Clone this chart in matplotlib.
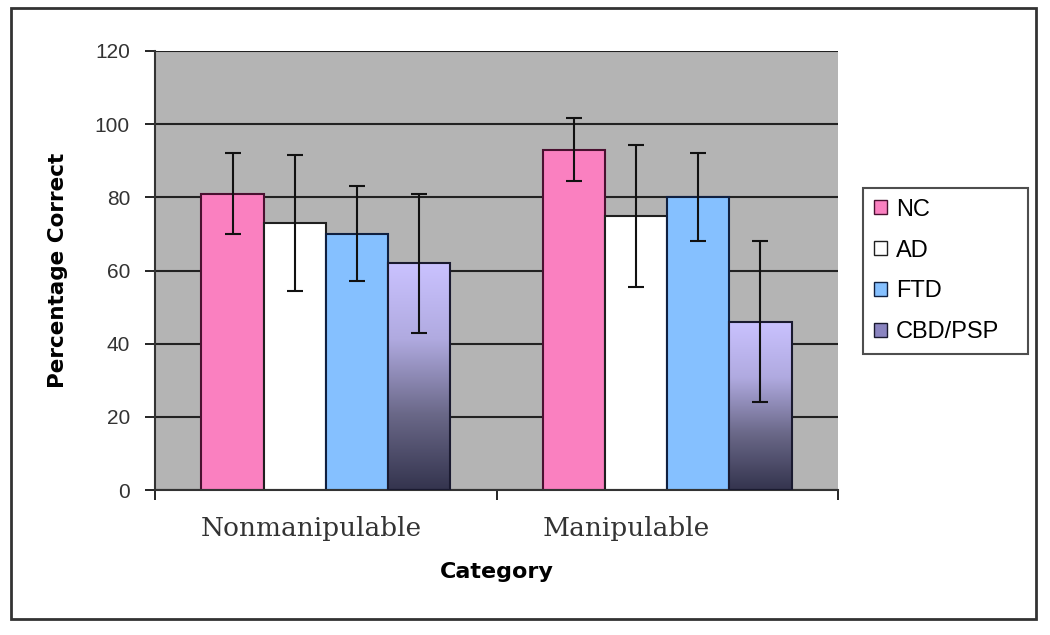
import matplotlib.pyplot as plt
import matplotlib.transforms as mtransforms
import numpy as np
from matplotlib.colors import LinearSegmentedColormap
from matplotlib.patches import Rectangle, Patch

categories = ["Nonmanipulable", "Manipulable"]
groups = ["NC", "AD", "FTD", "CBD/PSP"]
means = {
    "NC": [81, 93],
    "AD": [73, 75],
    "FTD": [70, 80],
    "CBD/PSP": [62, 46],
}
errors = {
    "NC": [11, 8.6],
    "AD": [18.6, 19.4],
    "FTD": [13, 12],
    "CBD/PSP": [19, 22],
}

colors = {"NC": "#fa80c0", "AD": "#ffffff", "FTD": "#85c0ff", "CBD/PSP": None}
edges = {"NC": "#4a1030", "AD": "#202020", "FTD": "#102040", "CBD/PSP": "#1a1a30"}

fig = plt.figure(figsize=(10.5, 6.35), dpi=100)
# outer chart border
fig.patches.append(Rectangle((11 / 1050, 1 - 619 / 635), (1036 - 11) / 1050, (619 - 8) / 635,
                             transform=fig.transFigure, fill=False, edgecolor="#333333",
                             linewidth=2, zorder=0))

ax = fig.add_axes([155 / 1050, 1 - 490 / 635, (838 - 155) / 1050, (490 - 51) / 635])
ax.set_facecolor("#b4b4b4")
ax.set_xlim(0, 2)
ax.set_ylim(0, 120)

bw = 0.182
x = np.arange(len(categories)) + 0.5
grad = LinearSegmentedColormap.from_list("g", ["#34344e", "#6a6888", "#b0aae0", "#cac2ff"])

for i, g in enumerate(groups):
    xs = x + (i - 1.5) * bw
    if colors[g] is None:
        bars = ax.bar(xs, means[g], bw, facecolor="none", edgecolor=edges[g], linewidth=1.5, zorder=3)
        for b in bars:
            img = np.linspace(0, 1, 256).reshape(-1, 1)
            im = ax.imshow(img, cmap=grad, origin="lower", aspect="auto",
                           extent=[b.get_x(), b.get_x() + b.get_width(), 0, b.get_height()], zorder=2)
            im.set_clip_path(b)
    else:
        ax.bar(xs, means[g], bw, color=colors[g], edgecolor=edges[g], linewidth=1.5, zorder=2)
    ax.errorbar(xs, means[g], yerr=errors[g], fmt="none", ecolor="#111111",
                elinewidth=1.5, capsize=6, capthick=1.5, zorder=4)

ax.set_xlim(0, 2)
ax.set_ylim(0, 120)
ax.set_yticks(range(0, 121, 20))
ax.yaxis.grid(True, color="#222222", linewidth=1.5)
ax.set_axisbelow(True)
ax.set_xticks([0, 1, 2])
ax.set_xticklabels([])
ax.set_xticks(x, minor=True)
ax.set_xticklabels(categories, minor=True, fontsize=19, family="DejaVu Serif", color="#333333")
ax.tick_params(axis="x", which="minor", length=0, pad=19)
ax.tick_params(axis="x", which="major", length=7, width=1.2)
ax.tick_params(axis="y", length=7, width=1.2, pad=11, labelsize=15, labelcolor="#333333")
for lab in ax.get_yticklabels():
    lab.set_family("Liberation Sans")
# the category labels sit a little left of the group centres in the original
for lab, dx in zip(ax.get_xticklabels(minor=True), [-14, -41]):
    lab.set_transform(lab.get_transform() + mtransforms.ScaledTranslation(dx / 100, 0, fig.dpi_scale_trans))
for s in ["top", "right"]:
    ax.spines[s].set_visible(False)
for s in ["left", "bottom"]:
    ax.spines[s].set_linewidth(1.5)
    ax.spines[s].set_color("#333333")

ax.set_xlabel("Category", fontsize=16, fontweight="bold", family="DejaVu Sans")
ax.set_ylabel("Percentage Correct", fontsize=15.5, fontweight="bold", family="DejaVu Sans")
ax.xaxis.set_label_coords(0.5, (490 - 572) / 439)
ax.yaxis.set_label_coords((58 - 155) / 683, 0.5)
ax.xaxis.label.set_va("center")
ax.yaxis.label.set_va("center")

handles = [Patch(facecolor=colors[g] if colors[g] else "#8a84c0", edgecolor=edges[g]) for g in groups]
leg = fig.legend(handles, groups, loc="upper left",
                 bbox_to_anchor=(863 / 1050, 1 - 355 / 635, 165 / 1050, 167 / 635), mode="expand",
                 frameon=True, fancybox=False, edgecolor="#222222", borderaxespad=0,
                 prop={"family": "Liberation Sans", "size": 17}, handlelength=0.55, handleheight=0.55,
                 handletextpad=0.4, labelspacing=0.8, borderpad=0.45)
leg.get_frame().set_linewidth(1.5)

fig.savefig("out.png", dpi=100)
